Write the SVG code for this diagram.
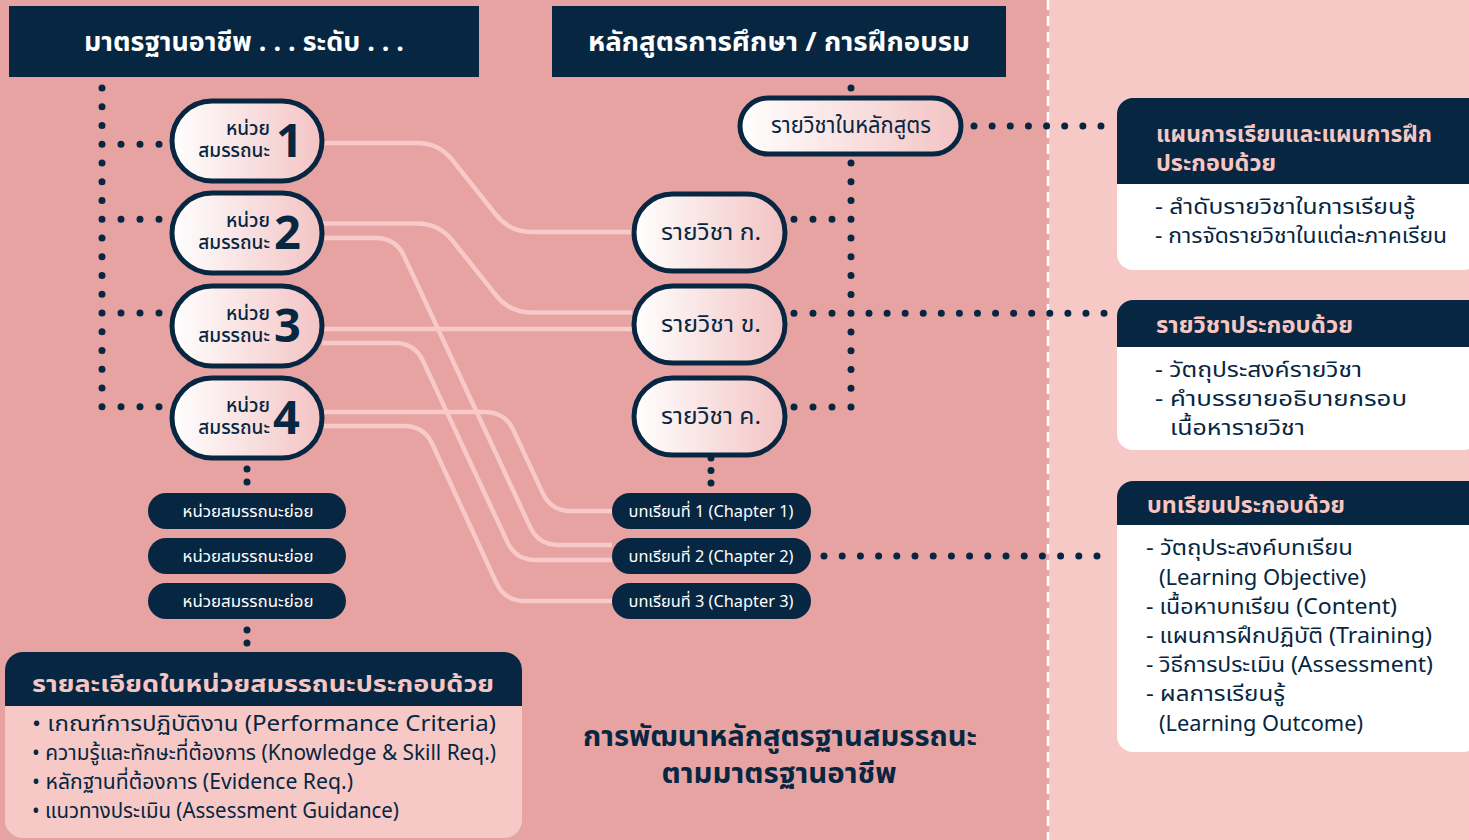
<svg xmlns="http://www.w3.org/2000/svg" width="1469" height="840" viewBox="0 0 1469 840">
  <style>
    text { font-family: 'Noto Sans Thai', 'Noto Sans Thai UI', 'Noto Sans', 'DejaVu Sans', sans-serif; }
    .hdr { fill: #ffffff; font-weight: 700; font-size: 27px; text-anchor: middle; }
    .pill { stroke: #062641; stroke-width: 5; fill: url(#pillGrad); }
    .dark { fill: #062641; }
    .unitSmall { fill: #062641; font-size: 19px; font-weight: 500; text-anchor: end; }
    .unitNum { fill: #062641; font-size: 47px; font-weight: 700; }
    .subj { fill: #062641; font-size: 23px; text-anchor: middle; }
    .chip { fill: #ffffff; font-size: 16px; text-anchor: middle; }
    .wire { fill: none; stroke: #F7C9C8; stroke-width: 4.5; }
    .dots { fill: none; stroke: #062641; stroke-width: 7; stroke-linecap: round; }
    .panelHead { fill: #F7C6C3; font-weight: 700; font-size: 23px; }
    .panelBody { fill: #062641; font-size: 22px; }
    .leftBody { fill: #062641; font-size: 21.5px; }
    .title { fill: #062641; font-weight: 700; font-size: 29px; text-anchor: middle; }
  </style>
  <defs>
    <linearGradient id="pillGrad" x1="0" y1="0" x2="1" y2="0">
      <stop offset="0" stop-color="#FFFFFF"/>
      <stop offset="1" stop-color="#F3C3C3"/>
    </linearGradient>
  </defs>

  <!-- backgrounds -->
  <rect x="0" y="0" width="1049" height="840" fill="#E7A3A2"/>
  <rect x="1049" y="0" width="420" height="840" fill="#F6C9C6"/>
  <line x1="1048" y1="0" x2="1048" y2="840" stroke="#FFFFFF" stroke-width="2.5" stroke-dasharray="10 6"/>

  <!-- connectors -->
  <g id="connectors">
    <path class="wire" d="M322,143 H417 Q439,143 452.6,160.3 L495.9,214.7 Q509.5,232 531.5,232 H632"/>
    <path class="wire" d="M322,223.5 H417 Q439,223.5 452.6,240.8 L495.9,295.2 Q509.5,312.5 531.5,312.5 H632"/>
    <path class="wire" d="M322,329 H632"/>
    <path class="wire" d="M322,238 H375.7 Q395.7,238 404.1,256.1 L530.1,526.9 Q538.5,545 558.5,545 H612"/>
    <path class="wire" d="M322,343 H394.7 Q414.7,343 423.1,361.1 L507.3,541.9 Q515.7,560 535.7,560 H612"/>
    <path class="wire" d="M322,412 H485 Q505,412 513.4,430.1 L542.6,492.9 Q551,511 571,511 H612"/>
    <path class="wire" d="M322,426 H404 Q424,426 432.4,444.1 L496.4,582.9 Q504.8,601 524.8,601 H612"/>

    <!-- dotted links -->
    <path class="dots" stroke-dasharray="0 18.75" d="M102,88 V407"/>
    <path class="dots" stroke-dasharray="0 19" d="M121,144.25 H160"/>
    <path class="dots" stroke-dasharray="0 19" d="M121,219.25 H160"/>
    <path class="dots" stroke-dasharray="0 19" d="M121,313 H160"/>
    <path class="dots" stroke-dasharray="0 19" d="M121,406.75 H160"/>

    <circle cx="851" cy="88" r="3.5" class="dark"/>
    <path class="dots" stroke-dasharray="0 18.77" d="M851,163 V408"/>
    <path class="dots" stroke-dasharray="0 19" d="M794,219.3 H833"/>
    <path class="dots" stroke-dasharray="0 19" d="M794,313.2 H833"/>
    <path class="dots" stroke-dasharray="0 18.08" d="M869,313.2 H1105"/>
    <path class="dots" stroke-dasharray="0 19" d="M794,407 H833"/>
    <path class="dots" stroke-dasharray="0 18.14" d="M974,126 H1102"/>
    <path class="dots" stroke-dasharray="0 18.2" d="M824,556 H1098"/>

    <path class="dots" stroke-dasharray="0 13" d="M247,469 V483"/>
    <path class="dots" stroke-dasharray="0 13" d="M247,630 V644"/>
    <path class="dots" stroke-dasharray="0 12.5" d="M711,458 V484"/>
  </g>

  <!-- column headers -->
  <g id="header-standard">
    <rect x="9" y="6" width="470" height="71" class="dark"/>
    <text x="244" y="51" class="hdr" textLength="320" lengthAdjust="spacingAndGlyphs">มาตรฐานอาชีพ . . . ระดับ . . .</text>
  </g>
  <g id="header-curriculum">
    <rect x="552" y="6" width="454" height="71" class="dark"/>
    <text x="779" y="51" class="hdr" textLength="382" lengthAdjust="spacingAndGlyphs">หลักสูตรการศึกษา / การฝึกอบรม</text>
  </g>

  <!-- competency units -->
  <g id="unit-1">
    <rect x="172" y="101" width="150" height="80" rx="40" class="pill"/>
    <text x="270" y="135" class="unitSmall">หน่วย</text>
    <text x="270" y="157" class="unitSmall">สมรรถนะ</text>
    <text x="276" y="157" class="unitNum">1</text>
  </g>
  <g id="unit-2">
    <rect x="172" y="193" width="150" height="80" rx="40" class="pill"/>
    <text x="270" y="227" class="unitSmall">หน่วย</text>
    <text x="270" y="249" class="unitSmall">สมรรถนะ</text>
    <text x="274" y="249" class="unitNum">2</text>
  </g>
  <g id="unit-3">
    <rect x="172" y="286" width="150" height="80" rx="40" class="pill"/>
    <text x="270" y="320" class="unitSmall">หน่วย</text>
    <text x="270" y="342" class="unitSmall">สมรรถนะ</text>
    <text x="274" y="342" class="unitNum">3</text>
  </g>
  <g id="unit-4">
    <rect x="172" y="378" width="150" height="80" rx="40" class="pill"/>
    <text x="270" y="412" class="unitSmall">หน่วย</text>
    <text x="270" y="434" class="unitSmall">สมรรถนะ</text>
    <text x="273" y="434" class="unitNum">4</text>
  </g>

  <!-- sub-units -->
  <g id="subunit-1">
    <rect x="148" y="493" width="198" height="36" rx="18" class="dark"/>
    <text x="248" y="516.5" class="chip" textLength="131" lengthAdjust="spacingAndGlyphs">หน่วยสมรรถนะย่อย</text>
  </g>
  <g id="subunit-2">
    <rect x="148" y="538" width="198" height="36" rx="18" class="dark"/>
    <text x="248" y="561.5" class="chip" textLength="131" lengthAdjust="spacingAndGlyphs">หน่วยสมรรถนะย่อย</text>
  </g>
  <g id="subunit-3">
    <rect x="148" y="583" width="198" height="36" rx="18" class="dark"/>
    <text x="248" y="606.5" class="chip" textLength="131" lengthAdjust="spacingAndGlyphs">หน่วยสมรรถนะย่อย</text>
  </g>

  <!-- unit detail panel -->
  <g id="unit-details">
    <rect x="5" y="652" width="517" height="186" rx="18" fill="#F6C9C7"/>
    <path d="M5,670 A18,18 0 0 1 23,652 H504 A18,18 0 0 1 522,670 V706 H5 Z" class="dark"/>
    <text x="32" y="692" class="panelHead" font-size="27" textLength="462" lengthAdjust="spacingAndGlyphs">รายละเอียดในหน่วยสมรรถนะประกอบด้วย</text>
    <text x="32" y="731" class="leftBody" textLength="464" lengthAdjust="spacingAndGlyphs">• เกณฑ์การปฏิบัติงาน (Performance Criteria)</text>
    <text x="32" y="760" class="leftBody" textLength="464" lengthAdjust="spacingAndGlyphs">• ความรู้และทักษะที่ต้องการ (Knowledge &amp; Skill Req.)</text>
    <text x="32" y="789" class="leftBody" textLength="321" lengthAdjust="spacingAndGlyphs">• หลักฐานที่ต้องการ (Evidence Req.)</text>
    <text x="32" y="818" class="leftBody" textLength="367" lengthAdjust="spacingAndGlyphs">• แนวทางประเมิน (Assessment Guidance)</text>
  </g>

  <!-- curriculum subjects -->
  <g id="course-list">
    <rect x="740" y="98" width="221" height="56" rx="28" class="pill"/>
    <text x="851" y="133" class="subj" font-size="20" textLength="160" lengthAdjust="spacingAndGlyphs">รายวิชาในหลักสูตร</text>
  </g>
  <g id="subject-a">
    <rect x="634" y="194" width="151" height="77" rx="38.5" class="pill"/>
    <text x="711" y="240" class="subj" textLength="100" lengthAdjust="spacingAndGlyphs">รายวิชา ก.</text>
  </g>
  <g id="subject-b">
    <rect x="634" y="286" width="151" height="77" rx="38.5" class="pill"/>
    <text x="711" y="332" class="subj" textLength="100" lengthAdjust="spacingAndGlyphs">รายวิชา ข.</text>
  </g>
  <g id="subject-c">
    <rect x="634" y="378" width="151" height="77" rx="38.5" class="pill"/>
    <text x="711" y="424" class="subj" textLength="100" lengthAdjust="spacingAndGlyphs">รายวิชา ค.</text>
  </g>

  <!-- chapters -->
  <g id="chapter-1">
    <rect x="612" y="493" width="199" height="36" rx="18" class="dark"/>
    <text x="711" y="516.5" class="chip" textLength="165" lengthAdjust="spacingAndGlyphs">บทเรียนที่ 1 (Chapter 1)</text>
  </g>
  <g id="chapter-2">
    <rect x="612" y="538" width="199" height="36" rx="18" class="dark"/>
    <text x="711" y="561.5" class="chip" textLength="165" lengthAdjust="spacingAndGlyphs">บทเรียนที่ 2 (Chapter 2)</text>
  </g>
  <g id="chapter-3">
    <rect x="612" y="583" width="199" height="36" rx="18" class="dark"/>
    <text x="711" y="606.5" class="chip" textLength="165" lengthAdjust="spacingAndGlyphs">บทเรียนที่ 3 (Chapter 3)</text>
  </g>

  <!-- caption -->
  <g id="caption">
    <text x="780" y="746" class="title" textLength="394" lengthAdjust="spacingAndGlyphs">การพัฒนาหลักสูตรฐานสมรรถนะ</text>
    <text x="779" y="783" class="title" textLength="235" lengthAdjust="spacingAndGlyphs">ตามมาตรฐานอาชีพ</text>
  </g>

  <!-- info panels -->
  <g id="panel-plan">
    <rect x="1117" y="98" width="362" height="172" rx="16" fill="#FFFFFF"/>
    <path d="M1117,114 A16,16 0 0 1 1133,98 H1479 V184 H1117 Z" class="dark"/>
    <text x="1156" y="142" class="panelHead" textLength="276" lengthAdjust="spacingAndGlyphs">แผนการเรียนและแผนการฝึก</text>
    <text x="1156" y="171" class="panelHead" textLength="120" lengthAdjust="spacingAndGlyphs">ประกอบด้วย</text>
    <text x="1155" y="214" class="panelBody" textLength="260" lengthAdjust="spacingAndGlyphs">- ลำดับรายวิชาในการเรียนรู้</text>
    <text x="1155" y="243" class="panelBody" textLength="292" lengthAdjust="spacingAndGlyphs">- การจัดรายวิชาในแต่ละภาคเรียน</text>
  </g>
  <g id="panel-subject">
    <rect x="1117" y="300" width="362" height="150" rx="16" fill="#FFFFFF"/>
    <path d="M1117,316 A16,16 0 0 1 1133,300 H1479 V347 H1117 Z" class="dark"/>
    <text x="1156" y="333" class="panelHead" textLength="197" lengthAdjust="spacingAndGlyphs">รายวิชาประกอบด้วย</text>
    <text x="1155" y="377" class="panelBody" textLength="207" lengthAdjust="spacingAndGlyphs">- วัตถุประสงค์รายวิชา</text>
    <text x="1155" y="406" class="panelBody" textLength="252" lengthAdjust="spacingAndGlyphs">- คำบรรยายอธิบายกรอบ</text>
    <text x="1170" y="435" class="panelBody" textLength="135" lengthAdjust="spacingAndGlyphs">เนื้อหารายวิชา</text>
  </g>
  <g id="panel-chapter">
    <rect x="1117" y="481" width="362" height="271" rx="16" fill="#FFFFFF"/>
    <path d="M1117,497 A16,16 0 0 1 1133,481 H1479 V525 H1117 Z" class="dark"/>
    <text x="1147" y="513" class="panelHead" textLength="198" lengthAdjust="spacingAndGlyphs">บทเรียนประกอบด้วย</text>
    <text x="1146" y="555" class="panelBody" textLength="207" lengthAdjust="spacingAndGlyphs">- วัตถุประสงค์บทเรียน</text>
    <text x="1159" y="585" class="panelBody" textLength="207" lengthAdjust="spacingAndGlyphs">(Learning Objective)</text>
    <text x="1146" y="614" class="panelBody" textLength="251" lengthAdjust="spacingAndGlyphs">- เนื้อหาบทเรียน (Content)</text>
    <text x="1146" y="643" class="panelBody" textLength="286" lengthAdjust="spacingAndGlyphs">- แผนการฝึกปฏิบัติ (Training)</text>
    <text x="1146" y="672" class="panelBody" textLength="287" lengthAdjust="spacingAndGlyphs">- วิธีการประเมิน (Assessment)</text>
    <text x="1146" y="701" class="panelBody" textLength="139" lengthAdjust="spacingAndGlyphs">- ผลการเรียนรู้</text>
    <text x="1159" y="731" class="panelBody" textLength="204" lengthAdjust="spacingAndGlyphs">(Learning Outcome)</text>
  </g>
</svg>
